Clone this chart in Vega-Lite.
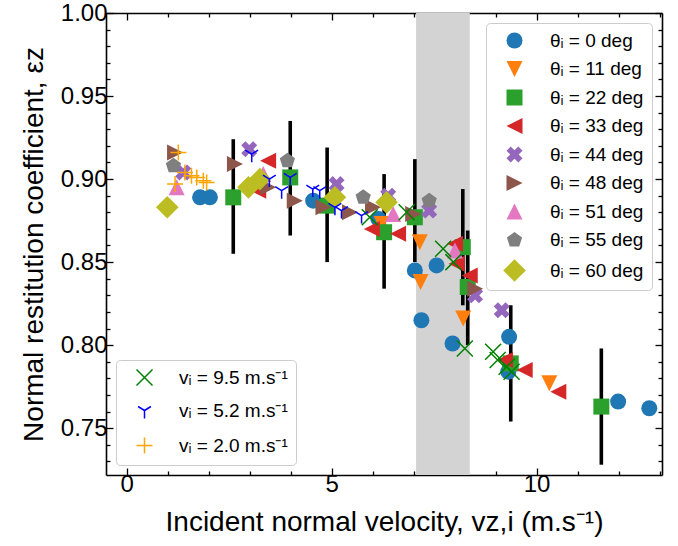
{
  "$schema": "https://vega.github.io/schema/vega-lite/v6.json",
  "width": 556,
  "height": 462,
  "autosize": "none",
  "padding": {"left": 106, "top": 13, "right": 16, "bottom": 71},
  "background": "white",
  "config": {
    "view": {"stroke": null},
    "font": "Liberation Sans",
    "axis": {
      "grid": false,
      "domainColor": "black",
      "domainWidth": 1.6,
      "tickColor": "black",
      "tickWidth": 1.3,
      "labelColor": "black",
      "titleColor": "black",
      "labelFont": "Liberation Sans",
      "titleFont": "Liberation Sans",
      "labelFontSize": 24,
      "titleFontSize": 28,
      "titleFontWeight": "normal"
    },
    "legend": {
      "labelFont": "Liberation Sans",
      "labelFontSize": 19,
      "labelColor": "black",
      "fillColor": "rgba(255,255,255,0.8)",
      "strokeColor": "#cccccc",
      "cornerRadius": 4,
      "padding": 8,
      "offset": 10,
      "symbolSize": 256,
      "title": null
    }
  },
  "datasets": {
    "theta": [
      {"x": 1.79, "y": 0.889, "theta": 0}, {"x": 2.03, "y": 0.889, "theta": 0}, {"x": 4.55, "y": 0.887, "theta": 0},
      {"x": 6.14, "y": 0.876, "theta": 0}, {"x": 7.03, "y": 0.845, "theta": 0}, {"x": 7.19, "y": 0.815, "theta": 0},
      {"x": 7.56, "y": 0.848, "theta": 0}, {"x": 7.95, "y": 0.801, "theta": 0}, {"x": 9.33, "y": 0.805, "theta": 0},
      {"x": 9.31, "y": 0.784, "theta": 0}, {"x": 11.99, "y": 0.766, "theta": 0}, {"x": 12.75, "y": 0.762, "theta": 0},
      {"x": 6.22, "y": 0.873, "theta": 11}, {"x": 7.15, "y": 0.862, "theta": 11}, {"x": 7.17, "y": 0.838, "theta": 11},
      {"x": 8.21, "y": 0.816, "theta": 11}, {"x": 10.31, "y": 0.777, "theta": 11},
      {"x": 2.60, "y": 0.889, "theta": 22}, {"x": 3.99, "y": 0.901, "theta": 22}, {"x": 4.89, "y": 0.884, "theta": 22},
      {"x": 6.28, "y": 0.868, "theta": 22}, {"x": 7.03, "y": 0.877, "theta": 22}, {"x": 8.20, "y": 0.859, "theta": 22},
      {"x": 8.32, "y": 0.835, "theta": 22}, {"x": 9.37, "y": 0.789, "theta": 22}, {"x": 11.58, "y": 0.763, "theta": 22},
      {"x": 3.45, "y": 0.911, "theta": 33}, {"x": 3.21, "y": 0.893, "theta": 33}, {"x": 5.98, "y": 0.870, "theta": 33},
      {"x": 6.62, "y": 0.867, "theta": 33}, {"x": 8.01, "y": 0.861, "theta": 33}, {"x": 8.05, "y": 0.849, "theta": 33},
      {"x": 8.37, "y": 0.842, "theta": 33}, {"x": 9.23, "y": 0.791, "theta": 33}, {"x": 9.71, "y": 0.785, "theta": 33},
      {"x": 10.53, "y": 0.772, "theta": 33},
      {"x": 1.38, "y": 0.904, "theta": 44}, {"x": 2.99, "y": 0.918, "theta": 44}, {"x": 5.12, "y": 0.897, "theta": 44},
      {"x": 6.38, "y": 0.890, "theta": 44}, {"x": 7.38, "y": 0.881, "theta": 44}, {"x": 8.50, "y": 0.830, "theta": 44},
      {"x": 9.15, "y": 0.821, "theta": 44},
      {"x": 1.18, "y": 0.916, "theta": 48}, {"x": 2.64, "y": 0.909, "theta": 48}, {"x": 3.45, "y": 0.895, "theta": 48},
      {"x": 4.10, "y": 0.887, "theta": 48}, {"x": 4.80, "y": 0.883, "theta": 48}, {"x": 5.45, "y": 0.880, "theta": 48},
      {"x": 6.01, "y": 0.883, "theta": 48}, {"x": 6.99, "y": 0.879, "theta": 48}, {"x": 8.50, "y": 0.834, "theta": 48},
      {"x": 1.22, "y": 0.895, "theta": 51}, {"x": 3.33, "y": 0.903, "theta": 51}, {"x": 6.50, "y": 0.879, "theta": 51},
      {"x": 8.01, "y": 0.857, "theta": 51},
      {"x": 1.14, "y": 0.908, "theta": 55}, {"x": 3.92, "y": 0.911, "theta": 55}, {"x": 5.77, "y": 0.889, "theta": 55},
      {"x": 7.38, "y": 0.887, "theta": 55},
      {"x": 0.99, "y": 0.883, "theta": 60}, {"x": 2.97, "y": 0.895, "theta": 60}, {"x": 3.25, "y": 0.900, "theta": 60},
      {"x": 5.08, "y": 0.889, "theta": 60}, {"x": 6.34, "y": 0.886, "theta": 60}
    ],
    "vel": [
      {"x": 5.93, "y": 0.877, "v": 9.5}, {"x": 6.83, "y": 0.880, "v": 9.5}, {"x": 7.72, "y": 0.858, "v": 9.5},
      {"x": 7.97, "y": 0.850, "v": 9.5}, {"x": 8.25, "y": 0.798, "v": 9.5}, {"x": 8.94, "y": 0.796, "v": 9.5},
      {"x": 9.05, "y": 0.791, "v": 9.5}, {"x": 9.27, "y": 0.787, "v": 9.5}, {"x": 9.39, "y": 0.784, "v": 9.5},
      {"x": 3.05, "y": 0.915, "v": 5.2}, {"x": 3.48, "y": 0.900, "v": 5.2}, {"x": 3.78, "y": 0.893, "v": 5.2},
      {"x": 3.99, "y": 0.901, "v": 5.2}, {"x": 4.54, "y": 0.894, "v": 5.2}, {"x": 4.71, "y": 0.893, "v": 5.2},
      {"x": 5.08, "y": 0.883, "v": 5.2}, {"x": 5.24, "y": 0.881, "v": 5.2}, {"x": 5.73, "y": 0.878, "v": 5.2},
      {"x": 1.26, "y": 0.916, "v": 2.0}, {"x": 1.18, "y": 0.897, "v": 2.0}, {"x": 1.42, "y": 0.904, "v": 2.0},
      {"x": 1.58, "y": 0.902, "v": 2.0}, {"x": 1.71, "y": 0.901, "v": 2.0}, {"x": 1.87, "y": 0.899, "v": 2.0},
      {"x": 1.95, "y": 0.898, "v": 2.0}
    ],
    "err": [
      {"x": 2.60, "lo": 0.855, "hi": 0.924}, {"x": 3.99, "lo": 0.866, "hi": 0.935},
      {"x": 4.89, "lo": 0.850, "hi": 0.919}, {"x": 6.28, "lo": 0.834, "hi": 0.903},
      {"x": 7.03, "lo": 0.850, "hi": 0.912}, {"x": 8.20, "lo": 0.824, "hi": 0.894},
      {"x": 8.32, "lo": 0.800, "hi": 0.869}, {"x": 9.37, "lo": 0.754, "hi": 0.824},
      {"x": 11.58, "lo": 0.728, "hi": 0.798}
    ],
    "band": [{"x1": 7.06, "x2": 8.37}]
  },
  "layer": [
    {
      "data": {"name": "band"},
      "mark": {"type": "rect", "color": "#d3d3d3"},
      "encoding": {
        "x": {"field": "x1", "type": "quantitative", "scale": {"domain": [-0.505, 13.06], "nice": false, "zero": false}, "axis": null},
        "x2": {"field": "x2"}
      }
    },
    {
      "data": {"name": "err"},
      "mark": {"type": "rule", "color": "black", "strokeWidth": 3.6},
      "encoding": {
        "x": {
          "field": "x", "type": "quantitative",
          "scale": {"domain": [-0.505, 13.06], "nice": false, "zero": false},
          "axis": {
            "orient": "bottom",
            "title": "Incident normal velocity, vz,i (m.s⁻¹)",
            "values": [0, 1, 2, 3, 4, 5, 6, 7, 8, 9, 10, 11, 12, 13],
            "labelExpr": "datum.value % 5 === 0 ? datum.label : ''",
            "tickSize": {"condition": {"test": "datum.value % 5 === 0", "value": -7}, "value": -4},
            "labelPadding": 4,
            "titlePadding": 12
          }
        },
        "y": {
          "field": "lo", "type": "quantitative",
          "scale": {"domain": [0.7218, 1.0], "nice": false, "zero": false},
          "axis": {
            "orient": "left",
            "title": "Normal restitution coefficient, εz",
            "values": [0.73, 0.74, 0.75, 0.76, 0.77, 0.78, 0.79, 0.8, 0.81, 0.82, 0.83, 0.84, 0.85, 0.86, 0.87, 0.88, 0.89, 0.9, 0.91, 0.92, 0.93, 0.94, 0.95, 0.96, 0.97, 0.98, 0.99, 1.0],
            "format": ".2f",
            "labelExpr": "round(datum.value * 100) % 5 === 0 ? datum.label : ''",
            "tickSize": {"condition": {"test": "round(datum.value * 100) % 5 === 0", "value": -7}, "value": -4},
            "labelPadding": 6,
            "titlePadding": 12
          }
        },
        "y2": {"field": "hi"}
      }
    },
    {
      "data": {"name": "theta"},
      "mark": {"type": "point", "filled": true, "size": 256, "opacity": 1, "strokeWidth": 0},
      "encoding": {
        "x": {
          "field": "x", "type": "quantitative",
          "scale": {"domain": [-0.505, 13.06], "nice": false, "zero": false},
          "axis": {
            "orient": "top", "title": null, "labels": false,
            "values": [0, 1, 2, 3, 4, 5, 6, 7, 8, 9, 10, 11, 12, 13],
            "tickSize": {"condition": {"test": "datum.value % 5 === 0", "value": -7}, "value": -4}
          }
        },
        "y": {
          "field": "y", "type": "quantitative",
          "scale": {"domain": [0.7218, 1.0], "nice": false, "zero": false},
          "axis": {
            "orient": "right", "title": null, "labels": false,
            "values": [0.73, 0.74, 0.75, 0.76, 0.77, 0.78, 0.79, 0.8, 0.81, 0.82, 0.83, 0.84, 0.85, 0.86, 0.87, 0.88, 0.89, 0.9, 0.91, 0.92, 0.93, 0.94, 0.95, 0.96, 0.97, 0.98, 0.99, 1.0],
            "tickSize": {"condition": {"test": "round(datum.value * 100) % 5 === 0", "value": -7}, "value": -4}
          }
        },
        "color": {
          "field": "theta", "type": "nominal",
          "scale": {"domain": [0, 11, 22, 33, 44, 48, 51, 55, 60], "range": ["#1f77b4", "#ff7f0e", "#2ca02c", "#d62728", "#9467bd", "#8c564b", "#e377c2", "#7f7f7f", "#bcbd22"]},
          "legend": {"orient": "top-right", "labelExpr": "'θᵢ = ' + datum.label + ' deg'", "rowPadding": 8.5, "symbolOffset": 11, "labelOffset": 26, "symbolStrokeWidth": 0}
        },
        "shape": {
          "field": "theta", "type": "nominal",
          "scale": {"domain": [0, 11, 22, 33, 44, 48, 51, 55, 60], "range": [
            "circle",
            "M-1,-1L1,-1L0,1Z",
            "square",
            "M-1,0L1,-1L1,1Z",
            "M0.48,-1L1,-0.48L0.52,0L1,0.48L0.48,1L0,0.52L-0.48,1L-1,0.48L-0.52,0L-1,-0.48L-0.48,-1L0,-0.52Z",
            "M1,0L-1,-1L-1,1Z",
            "M-1,1L1,1L0,-1Z",
            "M0,-1L0.951,-0.309L0.588,0.809L-0.588,0.809L-0.951,-0.309Z",
            "M0,-1.414L1.414,0L0,1.414L-1.414,0Z"
          ]},
          "legend": {"orient": "top-right", "labelExpr": "'θᵢ = ' + datum.label + ' deg'", "rowPadding": 8.5, "symbolOffset": 11, "labelOffset": 26, "symbolStrokeWidth": 0}
        }
      }
    },
    {
      "data": {"name": "vel"},
      "mark": {"type": "point", "filled": false, "size": 256, "strokeWidth": 1.5, "opacity": 1},
      "encoding": {
        "x": {"field": "x", "type": "quantitative", "scale": {"domain": [-0.505, 13.06], "nice": false, "zero": false}, "axis": null},
        "y": {"field": "y", "type": "quantitative", "scale": {"domain": [0.7218, 1.0], "nice": false, "zero": false}, "axis": null},
        "color": {
          "field": "v", "type": "nominal",
          "scale": {"domain": [9.5, 5.2, 2.0], "range": ["green", "blue", "orange"]},
          "legend": {"orient": "bottom-left", "labelExpr": "'vᵢ = ' + format(datum.value, '.1f') + ' m.s⁻¹'", "rowPadding": 12, "symbolOffset": 11, "labelOffset": 25, "symbolStrokeWidth": 1.5}
        },
        "shape": {
          "field": "v", "type": "nominal",
          "scale": {"domain": [9.5, 5.2, 2.0], "range": ["M-1,-1L1,1M-1,1L1,-1", "M0,0L0,1M0,0L0.8,-0.5M0,0L-0.8,-0.5", "M-1,0L1,0M0,-1L0,1"]},
          "legend": {"orient": "bottom-left", "labelExpr": "'vᵢ = ' + format(datum.value, '.1f') + ' m.s⁻¹'", "rowPadding": 12, "symbolOffset": 11, "labelOffset": 25, "symbolStrokeWidth": 1.5}
        }
      }
    }
  ],
  "resolve": {
    "scale": {"color": "independent", "shape": "independent"},
    "axis": {"x": "independent", "y": "independent"},
    "legend": {"color": "independent", "shape": "independent"}
  }
}
